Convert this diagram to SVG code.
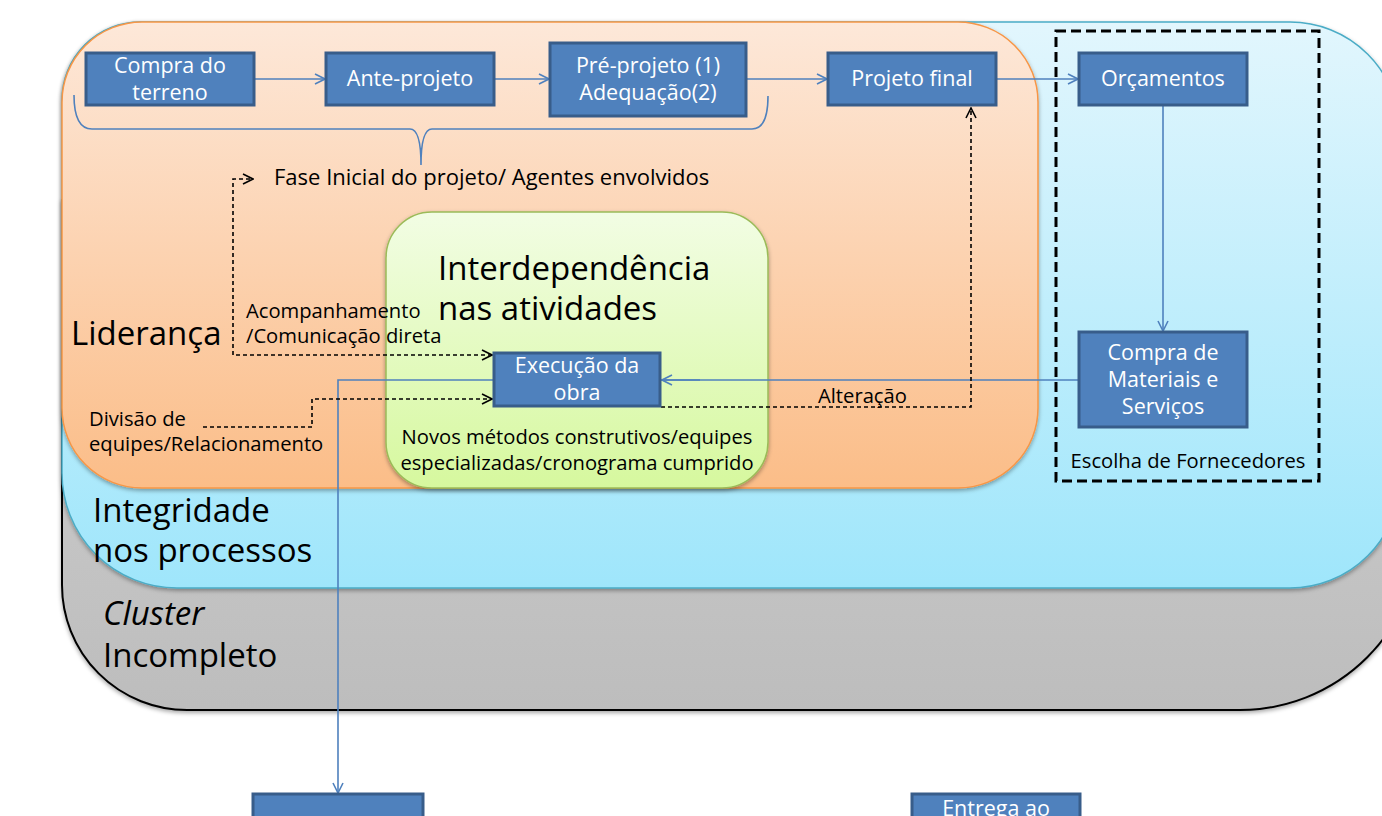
<svg xmlns="http://www.w3.org/2000/svg" width="1382" height="816" viewBox="0 0 1382 816">
  <defs>
    <linearGradient id="gGray" x1="0" y1="0" x2="0" y2="1">
      <stop offset="0" stop-color="#d2d2d2"/>
      <stop offset="1" stop-color="#bdbdbd"/>
    </linearGradient>
    <linearGradient id="gBlue" x1="0" y1="0" x2="0" y2="1">
      <stop offset="0" stop-color="#e2f6fd"/>
      <stop offset="1" stop-color="#9fe6fb"/>
    </linearGradient>
    <linearGradient id="gOrange" x1="0" y1="0" x2="0" y2="1">
      <stop offset="0" stop-color="#fde8d9"/>
      <stop offset="1" stop-color="#fbbd88"/>
    </linearGradient>
    <linearGradient id="gGreen" x1="0" y1="0" x2="0" y2="1">
      <stop offset="0" stop-color="#f2fde4"/>
      <stop offset="1" stop-color="#d6f89e"/>
    </linearGradient>
    <filter id="shadow" x="-5%" y="-5%" width="110%" height="115%">
      <feDropShadow dx="0" dy="2" stdDeviation="2" flood-color="#000" flood-opacity="0.35"/>
    </filter>
    <marker id="arrBlue" viewBox="0 0 12 12" refX="11" refY="6" markerWidth="12" markerHeight="12" markerUnits="userSpaceOnUse" orient="auto">
      <path d="M1,1 L11,6 L1,11" fill="none" stroke="#4f81bd" stroke-width="1.6"/>
    </marker>
    <marker id="arrBlack" viewBox="0 0 12 12" refX="11" refY="6" markerWidth="12" markerHeight="12" markerUnits="userSpaceOnUse" orient="auto">
      <path d="M1,1 L11,6 L1,11" fill="none" stroke="#000" stroke-width="1.6"/>
    </marker>
    <marker id="arrBlackStart" viewBox="0 0 12 12" refX="11" refY="6" markerWidth="12" markerHeight="12" markerUnits="userSpaceOnUse" orient="auto-start-reverse">
      <path d="M1,1 L11,6 L1,11" fill="none" stroke="#000" stroke-width="1.6"/>
    </marker>
  </defs>
  <style>
    text { font-family: "Open Sans", "Liberation Sans", sans-serif; fill: #000; }
    .node rect { fill: #4f81bd; stroke: #385d8a; stroke-width: 3; }
    .node text { fill: #fff; font-size: 21.5px; text-anchor: middle; }
    .lbl { font-size: 20.2px; }
    .big { font-size: 33px; }
    .solid { fill: none; stroke: #4f81bd; stroke-width: 1.6; }
    .dash { fill: none; stroke: #000; stroke-width: 1.6; stroke-dasharray: 4 3; }
  </style>

  <rect width="1382" height="816" fill="#fff"/>

  <!-- background regions -->
  <g id="cluster">
    <path d="M62,200 H1420 V530 A180,180 0 0 1 1240,710 H187 A125,125 0 0 1 62,585 Z" fill="url(#gGray)" stroke="#000" stroke-width="2" filter="url(#shadow)"/>
    <text class="big" x="103" y="625" font-style="italic">Cluster</text>
    <text class="big" x="103" y="667">Incompleto</text>
  </g>

  <g id="integridade">
    <path d="M140,22 H1290 A110,110 0 0 1 1400,132 V478 A110,110 0 0 1 1290,588 H177 A115,115 0 0 1 62,473 V100 A78,78 0 0 1 140,22 Z" fill="url(#gBlue)" stroke="#4bacc6" stroke-width="1.5" filter="url(#shadow)"/>
    <text class="big" x="93" y="522">Integridade</text>
    <text class="big" x="93" y="562">nos processos</text>
  </g>

  <g id="lideranca">
    <rect x="62" y="22" width="976" height="466" rx="80" ry="80" fill="url(#gOrange)" stroke="#f79646" stroke-width="1.5" filter="url(#shadow)"/>
    <text class="big" x="71" y="345">Liderança</text>
  </g>

  <g id="interdependencia">
    <rect x="386" y="212" width="382" height="276" rx="46" ry="46" fill="url(#gGreen)" stroke="#9bbb59" stroke-width="1.5" filter="url(#shadow)"/>
    <text class="big" x="438" y="280">Interdependência</text>
    <text class="big" x="438" y="320">nas atividades</text>
    <text class="lbl" x="577" y="444" text-anchor="middle">Novos métodos construtivos/equipes</text>
    <text class="lbl" x="577" y="470" text-anchor="middle">especializadas/cronograma cumprido</text>
  </g>

  <g id="fornecedores">
    <rect x="1056" y="31" width="263" height="450" fill="none" stroke="#000" stroke-width="3" stroke-dasharray="10 5"/>
    <text class="lbl" x="1188" y="468" text-anchor="middle">Escolha de Fornecedores</text>
  </g>

  <!-- brace grouping the initial phase -->
  <g id="fase-inicial">
    <path class="solid" d="M74,95 Q74,129 92,129 H410 Q421,129 421,165 Q421,129 432,129 H752 Q768,129 768,96"/>
    <text x="274" y="185" font-size="22px">Fase Inicial do projeto/ Agentes envolvidos</text>
  </g>

  <!-- connectors -->
  <g id="connectors">
    <path class="solid" d="M255,79 H325" marker-end="url(#arrBlue)"/>
    <path class="solid" d="M495,79 H549" marker-end="url(#arrBlue)"/>
    <path class="solid" d="M747,79 H827" marker-end="url(#arrBlue)"/>
    <path class="solid" d="M997,79 H1078" marker-end="url(#arrBlue)"/>
    <path class="solid" d="M1163,106 V331" marker-end="url(#arrBlue)"/>
    <path class="solid" d="M1078,380 H338 V793" marker-end="url(#arrBlue)"/>
    <path class="solid" d="M700,380 H662" marker-end="url(#arrBlue)"/>
    <path class="solid" d="M424,823 H910" marker-end="url(#arrBlue)"/>

    <path class="dash" d="M492,355 H233 V179 H253" marker-start="url(#arrBlackStart)" marker-end="url(#arrBlack)"/>
    <path class="dash" d="M203,427 H312 V399 H492" marker-end="url(#arrBlack)"/>
    <path class="dash" d="M661,407 H971 V108" marker-end="url(#arrBlack)"/>

    <text class="lbl" x="246" y="318">Acompanhamento</text>
    <text class="lbl" x="246" y="343">/Comunicação direta</text>
    <text class="lbl" x="89" y="426">Divisão de</text>
    <text class="lbl" x="89" y="451">equipes/Relacionamento</text>
    <text class="lbl" x="818" y="403">Alteração</text>
  </g>

  <!-- process nodes -->
  <g id="compra-terreno" class="node">
    <rect x="86" y="53" width="168" height="52"/>
    <text x="170" y="73">Compra do</text>
    <text x="170" y="100">terreno</text>
  </g>
  <g id="ante-projeto" class="node">
    <rect x="326" y="53" width="168" height="52"/>
    <text x="410" y="86">Ante-projeto</text>
  </g>
  <g id="pre-projeto" class="node">
    <rect x="550" y="43" width="196" height="73"/>
    <text x="648" y="73">Pré-projeto (1)</text>
    <text x="648" y="100">Adequação(2)</text>
  </g>
  <g id="projeto-final" class="node">
    <rect x="828" y="53" width="168" height="52"/>
    <text x="912" y="86">Projeto final</text>
  </g>
  <g id="orcamentos" class="node">
    <rect x="1079" y="53" width="168" height="52"/>
    <text x="1163" y="86">Orçamentos</text>
  </g>
  <g id="compra-materiais" class="node">
    <rect x="1079" y="332" width="168" height="95"/>
    <text x="1163" y="360">Compra de</text>
    <text x="1163" y="387">Materiais e</text>
    <text x="1163" y="414">Serviços</text>
  </g>
  <g id="execucao" class="node">
    <rect x="494" y="353" width="166" height="53"/>
    <text x="577" y="373">Execução da</text>
    <text x="577" y="400">obra</text>
  </g>
  <g id="no-inferior" class="node">
    <rect x="253" y="794" width="170" height="60"/>
  </g>
  <g id="entrega" class="node">
    <rect x="912" y="794" width="168" height="60"/>
    <text x="996" y="816">Entrega ao</text>
  </g>
</svg>
